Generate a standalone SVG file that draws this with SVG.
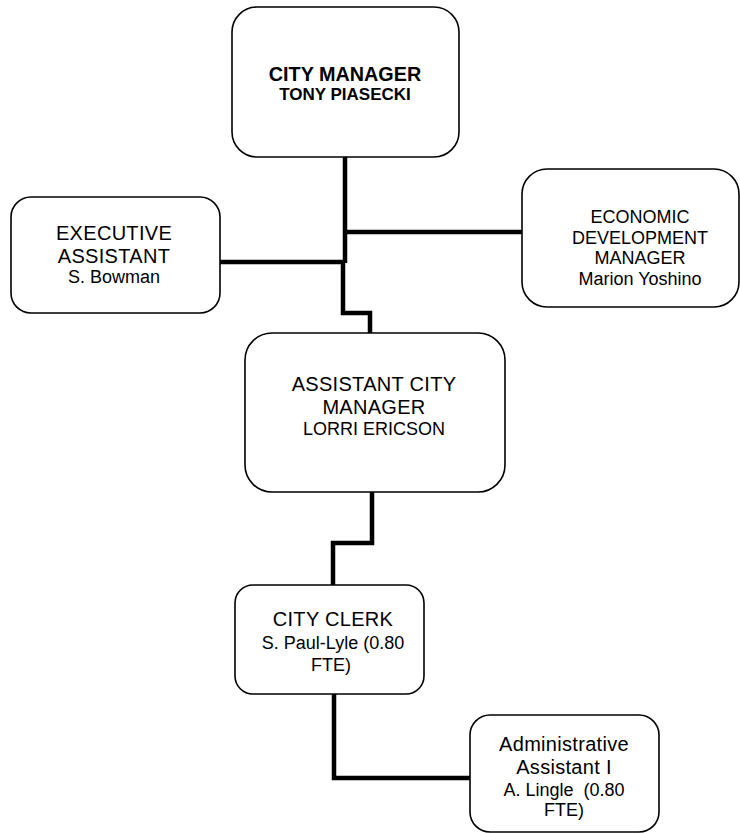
<svg xmlns="http://www.w3.org/2000/svg" width="740" height="833" viewBox="0 0 740 833">
  <style>
    .box { fill: #ffffff; stroke: #000000; stroke-width: 1.6; }
    .wire { fill: none; stroke: #000000; stroke-width: 4.5; stroke-linejoin: miter; stroke-linecap: butt; }
    text { font-family: "Liberation Sans", Arial, sans-serif; fill: #000000; text-anchor: middle; }
    .big { font-size: 20px; letter-spacing: 0.3px; }
    .small { font-size: 18px; }
    .bold { font-weight: bold; }
  </style>
  <rect width="740" height="833" fill="#ffffff"/>

  <!-- reporting lines -->
  <g id="connectors">
    <path class="wire" d="M345,157 V263"/>
    <path class="wire" d="M345,232 H522"/>
    <path class="wire" d="M220,262 H345"/>
    <path class="wire" d="M343,260 V313 H370 V333"/>
    <path class="wire" d="M372,492 V543 H333 V585"/>
    <path class="wire" d="M334,694 V778 H470"/>
  </g>

  <g id="city-manager">
    <rect class="box" x="232" y="7" width="227" height="150" rx="25" ry="25"/>
    <text class="bold" x="345" y="81" font-size="19.8">CITY MANAGER</text>
    <text class="bold" x="345" y="100" font-size="17">TONY PIASECKI</text>
  </g>

  <g id="executive-assistant">
    <rect class="box" x="11" y="197" width="209" height="116" rx="20" ry="20"/>
    <text class="big" x="114" y="240">EXECUTIVE</text>
    <text class="big" x="114" y="263">ASSISTANT</text>
    <text class="small" x="114" y="283">S. Bowman</text>
  </g>

  <g id="economic-development-manager">
    <rect class="box" x="522" y="169" width="217" height="138" rx="25" ry="25"/>
    <text class="small" x="640" y="222.5">ECONOMIC</text>
    <text class="small" x="640" y="243.5">DEVELOPMENT</text>
    <text class="small" x="640" y="264">MANAGER</text>
    <text class="small" x="640" y="285">Marion Yoshino</text>
  </g>

  <g id="assistant-city-manager">
    <rect class="box" x="245" y="333" width="260" height="159" rx="27" ry="27"/>
    <text class="big" x="374" y="391">ASSISTANT CITY</text>
    <text class="big" x="374" y="414">MANAGER</text>
    <text class="small" x="374" y="435">LORRI ERICSON</text>
  </g>

  <g id="city-clerk">
    <rect class="box" x="235" y="585" width="189" height="109" rx="18" ry="18"/>
    <text class="big" x="333" y="626">CITY CLERK</text>
    <text class="small" x="333" y="649">S. Paul-Lyle (0.80</text>
    <text class="small" x="331" y="671">FTE)</text>
  </g>

  <g id="administrative-assistant">
    <rect class="box" x="470" y="715" width="189" height="117" rx="20" ry="20"/>
    <text class="big" x="564" y="750.5">Administrative</text>
    <text class="big" x="564" y="774">Assistant I</text>
    <text class="small" x="564" y="795.5" xml:space="preserve">A. Lingle  (0.80</text>
    <text class="small" x="564" y="816">FTE)</text>
  </g>
</svg>
